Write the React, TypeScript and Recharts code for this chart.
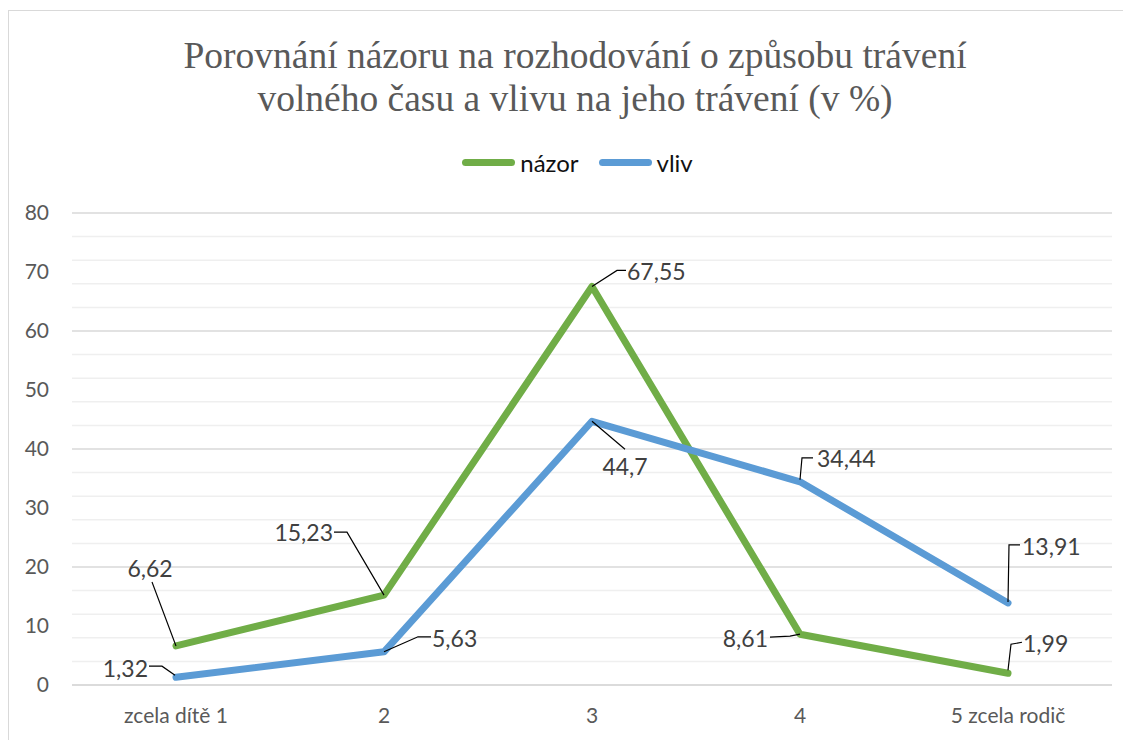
import React from 'react';
import {
  LineChart,
  Line,
  XAxis,
  YAxis,
  CartesianGrid,
  LabelList,
} from 'recharts';

const categories = ['zcela dítě 1', '2', '3', '4', '5 zcela rodič'];
const nazorValues = [6.62, 15.23, 67.55, 8.61, 1.99];
const vlivValues = [1.32, 5.63, 44.7, 34.44, 13.91];
const majorTicks = [0, 10, 20, 30, 40, 50, 60, 70, 80];
const minorTicks = Array.from({ length: 41 }, (_, i) => i * 2);

const GREEN = '#70AD47';
const BLUE = '#5B9BD5';
const FONT = 'Lato, "Open Sans", sans-serif';

// label placement next to each point: text offset + leader line (relative to the point)
type LabelLayout = { dx: number; dy: number; anchor: 'start' | 'middle' | 'end'; leader: [number, number][] };

const nazorLabels: LabelLayout[] = [
  { dx: -26, dy: -69, anchor: 'middle', leader: [[-24, -64], [0, 0]] },
  { dx: -51, dy: -54, anchor: 'end', leader: [[-50, -63], [-37, -63], [0, 0]] },
  { dx: 35, dy: -6, anchor: 'start', leader: [[0, 0], [25, -16], [34, -16]] },
  { dx: -32, dy: 13, anchor: 'end', leader: [[-30, 3], [-10, 2], [0, 0]] },
  { dx: 15, dy: -21, anchor: 'start', leader: [[0, -3], [3, -29], [14, -31]] },
];

const vlivLabels: LabelLayout[] = [
  { dx: -28, dy: 0, anchor: 'end', leader: [[-27, -11], [-14, -11], [-1, -2]] },
  { dx: 48, dy: -5, anchor: 'start', leader: [[0, 0], [34, -15], [47, -15]] },
  { dx: 33, dy: 54, anchor: 'middle', leader: [[0, 0], [33, 28]] },
  { dx: 17, dy: -15, anchor: 'start', leader: [[0, -2], [2, -24], [13, -24]] },
  { dx: 14, dy: -48, anchor: 'start', leader: [[0, -1], [1, -58], [12, -58]] },
];

const legendItems = [
  { name: 'názor', color: GREEN },
  { name: 'vliv', color: BLUE },
];

const data = categories.map((name, i) => ({
  name,
  nazor: nazorValues[i],
  vliv: vlivValues[i],
}));

const fmt = (v: number) => String(v).replace('.', ',');

const makeLabel = (layouts: LabelLayout[]) => (props: any) => {
  const { x, y, value, index } = props;
  const l = layouts[index];
  if (!l || x == null || y == null) return null;
  const pts = l.leader.map(([a, b]) => `${x + a},${y + b}`).join(' ');
  return (
    <g>
      <polyline points={pts} fill="none" stroke="#000" strokeWidth={1.2} />
      <text
        x={x + l.dx}
        y={y + l.dy}
        textAnchor={l.anchor}
        fill="#404040"
        fontSize={23}
        fontFamily={FONT}
      >
        {fmt(value)}
      </text>
    </g>
  );
};

// major lines every 10, lighter minor lines every 2
const gridLine = (props: any) => {
  const { x1, x2, y1, y2, index } = props;
  const major = index % 5 === 0;
  return (
    <line
      key={`g-${index}`}
      x1={x1}
      x2={x2}
      y1={y1}
      y2={y2}
      stroke={major ? '#d9d9d9' : '#efefef'}
      strokeWidth={1.5}
    />
  );
};

function ChartLegend() {
  return (
    <div
      style={{
        position: 'absolute',
        top: 137,
        left: 0,
        width: 1116,
        display: 'flex',
        justifyContent: 'center',
        alignItems: 'center',
        paddingLeft: 21,
        boxSizing: 'border-box',
        fontFamily: FONT,
        fontSize: 24,
        color: '#111',
      }}
    >
      {legendItems.map((it, i) => (
        <div key={it.name} style={{ display: 'flex', alignItems: 'center', marginLeft: i ? 20 : 0 }}>
          <span
            style={{ display: 'inline-block', width: 53, height: 7, borderRadius: 3.5, background: it.color, marginRight: 5 }}
          />
          <span>{it.name}</span>
        </div>
      ))}
    </div>
  );
}

export default function App() {
  return (
    <div style={{ width: 1123, height: 732, overflow: 'hidden' }}>
      <div
        style={{
          position: 'relative',
          marginTop: 2,
          width: 1140,
          height: 760,
          border: '1px solid #d9d9d9',
          boxSizing: 'border-box',
        }}
      >
        <div
          style={{
            position: 'absolute',
            left: 0,
            top: 23,
            width: 1132,
            textAlign: 'center',
            fontFamily: '"Liberation Serif", "DejaVu Serif", serif',
            fontSize: 37.5,
            lineHeight: '43px',
            color: '#595959',
          }}
        >
          Porovnání názoru na rozhodování o způsobu trávení
          <br />
          volného času a vlivu na jeho trávení (v %)
        </div>
        <ChartLegend />
        <LineChart
          width={1116}
          height={729}
          data={data}
          margin={{ top: 202, right: 13, bottom: 10, left: 0 }}
        >
          <CartesianGrid horizontalValues={minorTicks} vertical={false} horizontal={gridLine} />
          <XAxis
            dataKey="name"
            padding={{ left: 104, right: 104 }}
            axisLine={{ stroke: '#d9d9d9', strokeWidth: 1.5 }}
            tickLine={false}
            tickMargin={17}
            height={45}
            tick={{ fill: '#595959', fontSize: 21, fontFamily: FONT }}
            interval={0}
          />
          <YAxis
            domain={[0, 80]}
            ticks={majorTicks}
            width={63}
            axisLine={false}
            tickLine={false}
            tickMargin={17}
            tick={{ fill: '#595959', fontSize: 21, fontFamily: FONT }}
          />
          <Line
            type="linear"
            dataKey="nazor"
            name="názor"
            stroke={GREEN}
            strokeWidth={7}
            strokeLinecap="round"
            strokeLinejoin="round"
            dot={false}
            isAnimationActive={false}
          >
            <LabelList dataKey="nazor" content={makeLabel(nazorLabels)} />
          </Line>
          <Line
            type="linear"
            dataKey="vliv"
            name="vliv"
            stroke={BLUE}
            strokeWidth={7}
            strokeLinecap="round"
            strokeLinejoin="round"
            dot={false}
            isAnimationActive={false}
          >
            <LabelList dataKey="vliv" content={makeLabel(vlivLabels)} />
          </Line>
        </LineChart>
      </div>
    </div>
  );
}
